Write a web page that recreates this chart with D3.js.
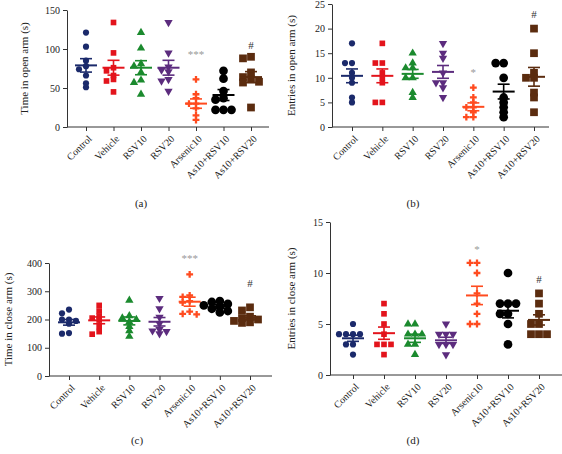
<!DOCTYPE html>
<html><head><meta charset="utf-8">
<script src="https://cdn.jsdelivr.net/npm/d3@7/dist/d3.min.js"></script>
<style>body{margin:0;background:#fff}svg{display:block}text{font-family:"Liberation Serif","Times New Roman",serif}</style>
</head><body><svg id="c" width="562" height="454"></svg>
<script>
const categories = ["Control","Vehicle","RSV10","RSV20","Arsenic10","As10+RSV10","As10+RSV20"];
const colors = ["#1b2a6b","#e3141c","#1b8a2e","#5c2c7e","#ff4b1f","#000000","#5b2c0f"];

// (a) Time in open arm
const openTime = [
  [121,103,85,78,74,66,56,51],
  [134,95,76,72,66,61,59,45],
  [121,101,81,78,70,60,57,42],
  [134,95,77,73,71,61,59,46],
  [61,42,37,30,30,24,15,9],
  [72,62,46,37,35,22,22,22],
  [90,88,70,64,61,58,57,25]];
const openTimeMean = [79,76,76,76,30,41,64];
const openTimeSem = [8.6,9.5,9,9.5,6,7,7];
const openTimeTicks = [0,50,100,150];

// (b) Entries in open arm
const openEntries = [
  [17,13,13,11,10,9,6,5],
  [17,13,13,11,10,9,5,5],
  [15,13,12,12,10,10,7,6],
  [17,15,14,11,9,9,8,6],
  [8,6,5,4,4,3,2,2],
  [13,13,10,6,5,4,3,2],
  [20,15,11,10,10,7,6,3]];
const openEntriesMean = [10.4,10.4,10.8,11.2,4.1,7.2,10.2];
const openEntriesSem = [1.4,1.4,0.9,1.3,0.8,1.5,1.9];
const openEntriesTicks = [0,5,10,15,20,25];

// (c) Time in close arm
const closeTime = [
  [235,222,200,200,195,185,152,150],
  [250,230,212,205,198,175,157,148],
  [268,213,205,200,192,175,160,140],
  [275,238,208,185,165,160,158,150],
  [360,285,280,265,260,228,220,218],
  [265,262,255,250,245,238,230,225],
  [243,232,210,205,200,195,190,188]];
const closeTimeMean = [190,197,195,192,263,246,206];
const closeTimeSem = [10,12,14,15,16,6,7];
const closeTimeTicks = [0,100,200,300,400];

// (d) Entries in close arm
const closeEntries = [
  [5,4,4,4,4,3,3,2],
  [7,6,5,4,3,3,3,2],
  [5,5,4,4,4,3,3,2],
  [5,4,4,4,3,3,3,2],
  [11,11,10,8,7,6,5,5],
  [10,7,7,7,6,6,5,3],
  [8,7,6,5,5,4,4,4]];
const closeEntriesMean = [3.6,4.1,3.6,3.4,7.8,6.3,5.4];
const closeEntriesSem = [0.3,0.6,0.4,0.3,0.9,0.7,0.5];
const closeEntriesTicks = [0,5,10,15];

const sigA = ["","","","","***","","#"];
const sigB = ["","","","","*","","#"];
const sigC = ["","","","","***","","#"];
const sigD = ["","","","","*","","#"];
// value-level at which the significance marks sit
const sigLevelA = [0,0,0,0,94,0,105];
const sigLevelB = [0,0,0,0,11.1,0,23];
const sigLevelC = [0,0,0,0,416,0,328];
const sigLevelD = [0,0,0,0,12.3,0,9.4];

const panels = [
  {vals:openTime, mean:openTimeMean, sem:openTimeSem, ticks:openTimeTicks, max:150, sig:sigA, sigL:sigLevelA,
   label:"Time in open arm (s)", cap:"(a)", x0:67, x1:269, t0:86, t1:251, y0:127, y1:10, lx:24, capx:141, capy:207},
  {vals:openEntries, mean:openEntriesMean, sem:openEntriesSem, ticks:openEntriesTicks, max:25, sig:sigB, sigL:sigLevelB,
   label:"Entries in open arm (s)", cap:"(b)", x0:332, x1:549, t0:352, t1:534, y0:127, y1:4, lx:291, capx:413, capy:207},
  {vals:closeTime, mean:closeTimeMean, sem:closeTimeSem, ticks:closeTimeTicks, max:400, sig:sigC, sigL:sigLevelC,
   label:"Time in close arm (s)", cap:"(c)", x0:49, x1:272, t0:69, t1:250, y0:376, y1:263, lx:8, capx:137, capy:444},
  {vals:closeEntries, mean:closeEntriesMean, sem:closeEntriesSem, ticks:closeEntriesTicks, max:15, sig:sigD, sigL:sigLevelD,
   label:"Entries in close arm (s)", cap:"(d)", x0:330, x1:562, t0:353, t1:539, y0:375, y1:222, lx:291, capx:413, capy:444}
];

const symbols = [d3.symbolCircle,d3.symbolSquare,d3.symbolTriangle,"down",d3.symbolCross,d3.symbolCircle,d3.symbolSquare];
const sizes = [30,32,30,30,26,60,60];
const svg = d3.select("#c");

function symPath(i){
  const s = symbols[i];
  if (s === "down") return d3.symbol(d3.symbolTriangle, sizes[i])();
  return d3.symbol(s, sizes[i])();
}

panels.forEach((p)=>{
  const g = svg.append("g");
  const x = d3.scalePoint().domain(categories).range([p.t0,p.t1]);
  const y = d3.scaleLinear().domain([0,p.max]).range([p.y0,p.y1]);

  const ya = g.append("g").attr("transform",`translate(${p.x0},0)`)
    .call(d3.axisLeft(y).tickValues(p.ticks).tickSize(4).tickSizeOuter(0).tickPadding(3));
  ya.select(".domain").attr("stroke","#333");
  ya.selectAll(".tick line").attr("stroke","#333");
  ya.selectAll("text").attr("font-size",10).attr("fill","#222").attr("font-family","Liberation Serif");

  const xa = g.append("g").attr("transform",`translate(0,${p.y0})`)
    .call(d3.axisBottom(x).tickSize(4).tickSizeOuter(0).tickFormat(()=>""));
  xa.select(".domain").attr("d",`M${p.x0},0H${p.x1}`).attr("stroke","#333");
  xa.selectAll(".tick line").attr("stroke","#333");
  categories.forEach(c=>{
    g.append("text").attr("transform",`translate(${x(c)+4},${p.y0+10}) rotate(-45)`)
      .attr("text-anchor","end").attr("dy","0.35em").attr("font-size",10).attr("fill","#222").text(c);
  });

  g.append("text").attr("transform",`translate(${p.lx},${(p.y0+p.y1)/2}) rotate(-90)`)
    .attr("text-anchor","middle").attr("dy","0.35em").attr("font-size",11).attr("fill","#222").text(p.label);
  g.append("text").attr("x",p.capx).attr("y",p.capy).attr("text-anchor","middle").attr("font-size",11).attr("fill","#222").text(p.cap);

  categories.forEach((c,ci)=>{
    const cx = x(c);
    const col = colors[ci];
    const big = ci>=5;
    const dx = big?8:7;
    const r = big?4.5:3.5;
    const placed = [];
    p.vals[ci].forEach(v=>{
      const py = y(v);
      const cands = [0,-dx,dx,-2*dx,2*dx,-3*dx,3*dx];
      let off = 0;
      for (const o of cands){
        if (!placed.some(q=>Math.abs(q.o-o)<dx*0.9 && Math.abs(q.y-py)<r*1.05)){ off=o; break; }
      }
      placed.push({o:off,y:py});
      g.append("path").attr("d",symPath(ci))
        .attr("transform",`translate(${cx+off},${py})${symbols[ci]==="down"?" rotate(180)":""}`)
        .attr("fill",col);
    });
    const m = p.mean[ci], s = p.sem[ci];
    const lw = 1.6;
    g.append("line").attr("x1",cx-11).attr("x2",cx+11).attr("y1",y(m)).attr("y2",y(m)).attr("stroke",col).attr("stroke-width",2);
    g.append("line").attr("x1",cx).attr("x2",cx).attr("y1",y(m-s)).attr("y2",y(m+s)).attr("stroke",col).attr("stroke-width",lw);
    [m-s,m+s].forEach(v=>g.append("line").attr("x1",cx-6).attr("x2",cx+6).attr("y1",y(v)).attr("y2",y(v)).attr("stroke",col).attr("stroke-width",lw));
    if (p.sig[ci]){
      g.append("text").attr("x",cx).attr("y",y(p.sigL[ci])).attr("text-anchor","middle").attr("dy","0.35em")
        .attr("font-size",11).attr("fill",p.sig[ci]==="#"?"#333":"#999").text(p.sig[ci]);
    }
  });
});
</script></body></html>
